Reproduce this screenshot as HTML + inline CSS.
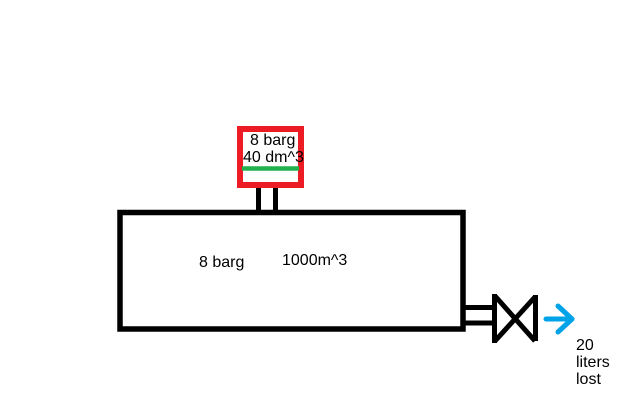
<!DOCTYPE html>
<html>
<head>
<meta charset="utf-8">
<style>
html,body{margin:0;padding:0;background:#fff;}
svg{display:block;}
text{font-family:"Liberation Sans",Arial,sans-serif;font-size:16px;fill:#000;}
</style>
</head>
<body>
<svg width="634" height="417" viewBox="0 0 634 417" xmlns="http://www.w3.org/2000/svg">
  <rect x="0" y="0" width="634" height="417" fill="#fff"/>
  <!-- small vessel -->
  <rect x="240" y="129" width="61" height="56" fill="none" stroke="#ed1c24" stroke-width="6"/>
  <line x1="242" y1="168.5" x2="299" y2="168.5" stroke="#22b14c" stroke-width="4.5"/>
  <!-- connecting pipes -->
  <line x1="258.5" y1="188" x2="258.5" y2="212" stroke="#000" stroke-width="5"/>
  <line x1="275.5" y1="188" x2="275.5" y2="212" stroke="#000" stroke-width="5"/>
  <!-- tank -->
  <rect x="120" y="212.5" width="343" height="116.5" fill="none" stroke="#000" stroke-width="5.5"/>
  <!-- outlet pipe -->
  <line x1="465" y1="307.5" x2="495" y2="307.5" stroke="#000" stroke-width="5"/>
  <line x1="465" y1="323" x2="495" y2="323" stroke="#000" stroke-width="5"/>
  <!-- valve -->
  <line x1="494.5" y1="294" x2="494.5" y2="343" stroke="#000" stroke-width="5"/>
  <line x1="535.5" y1="295" x2="535.5" y2="341" stroke="#000" stroke-width="5"/>
  <line x1="495" y1="296" x2="535" y2="341" stroke="#000" stroke-width="5"/>
  <line x1="495" y1="341" x2="535" y2="297" stroke="#000" stroke-width="5"/>
  <!-- arrow -->
  <line x1="546" y1="319" x2="572" y2="319" stroke="#00a2e8" stroke-width="5" stroke-linecap="round"/>
  <polyline points="558,306 572,319 558,332" fill="none" stroke="#00a2e8" stroke-width="5" stroke-linecap="round" stroke-linejoin="round"/>
  <!-- labels -->
  <text x="250" y="145">8 barg</text>
  <text x="243" y="162">40 dm^3</text>
  <text x="199" y="267">8 barg</text>
  <text x="282" y="265">1000m^3</text>
  <text x="576" y="350">20</text>
  <text x="576" y="367">liters</text>
  <text x="576" y="384">lost</text>
</svg>
</body>
</html>
